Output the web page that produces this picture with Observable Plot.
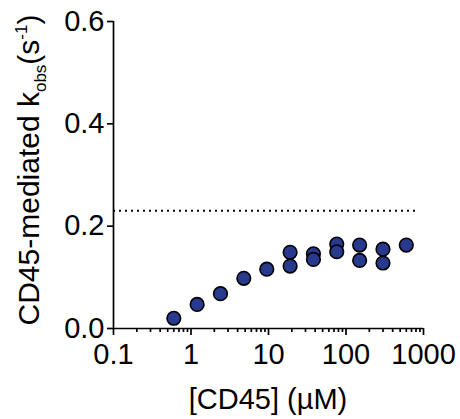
<!DOCTYPE html>
<html>
<head>
<meta charset="utf-8">
<script src="https://cdn.jsdelivr.net/npm/d3@7"></script>
<script src="https://cdn.jsdelivr.net/npm/@observablehq/plot@0.6"></script>
<style>
  html, body { margin: 0; padding: 0; background: #fff; }
  #chart { width: 460px; height: 419px; }
</style>
</head>
<body>
<div id="chart"></div>
<script>
// Data
const cd45 = [0.6, 1.2, 2.4, 4.8, 9.5, 19, 19, 38, 38, 76, 76, 150, 150, 300, 300, 600];
const kobs = [0.020, 0.047, 0.068, 0.098, 0.116, 0.149, 0.122, 0.146, 0.135, 0.165, 0.150, 0.163, 0.133, 0.155, 0.128, 0.163];
const kMax = [0.230];
const xTickValues = [0.1, 1, 10, 100, 1000];
const xTickLabels = ["0.1", "1", "10", "100", "1000"];
const yTickValues = [0, 0.2, 0.4, 0.6];
const yTickLabels = ["0.0", "0.2", "0.4", "0.6"];

const points = cd45.map((c, i) => ({c, k: kobs[i]}));
const minorTicks = d3.scaleLog().domain([0.1, 1000]).ticks().filter(v => !xTickValues.includes(v));

const font = "Liberation Sans, Arial, sans-serif";

const plot = Plot.plot({
  width: 460,
  height: 419,
  marginLeft: 113,
  marginRight: 37,
  marginTop: 21,
  marginBottom: 91,
  style: {fontFamily: font, fontSize: "29px", color: "#000", background: "#fff"},
  x: {type: "log", domain: [0.1, 1000], label: null},
  y: {domain: [0, 0.6], label: null},
  marks: [
    Plot.axisY(yTickValues, {tickSize: 6, tickPadding: 3, strokeWidth: 1.7, tickFormat: d => yTickLabels[yTickValues.indexOf(d)], fontSize: 29}),
    Plot.axisX(minorTicks, {tickSize: 4, strokeWidth: 1.7, tickFormat: () => ""}),
    Plot.axisX(xTickValues, {tickSize: 7, tickPadding: 8, strokeWidth: 1.7, tickFormat: d => xTickLabels[xTickValues.indexOf(d)], fontSize: 29}),
    Plot.ruleX([0.1], {y1: 0, y2: 0.6, strokeWidth: 1.7}),
    Plot.ruleY([0], {x1: 0.1, x2: 1000, strokeWidth: 1.7}),
    Plot.ruleY(kMax, {x1: 0.1, x2: 880, stroke: "#000", strokeWidth: 2, strokeDasharray: "2,4"}),
    Plot.dot(points, {x: "c", y: "k", r: 6.8, fill: "#283a8e", stroke: "#000", strokeWidth: 1.6})
  ]
});

// Axis titles with sub/superscripts
const svg = d3.select(plot);
svg.append("text")
  .attr("x", 268).attr("y", 409)
  .attr("text-anchor", "middle")
  .attr("font-family", font).attr("font-size", 29).attr("fill", "#000")
  .text("[CD45] (µM)");

const yl = svg.append("text")
  .attr("transform", "translate(39,170) rotate(-90)")
  .attr("text-anchor", "middle")
  .attr("font-family", font).attr("font-size", 30).attr("fill", "#000");
yl.append("tspan").text("CD45-mediated k");
yl.append("tspan").attr("font-size", 17).attr("dy", 7).text("obs");
yl.append("tspan").attr("dy", -7).text("(s");
yl.append("tspan").attr("font-size", 17).attr("dy", -12).text("-1");
yl.append("tspan").attr("dy", 12).text(")");

document.getElementById("chart").appendChild(plot);
</script>
</body>
</html>
